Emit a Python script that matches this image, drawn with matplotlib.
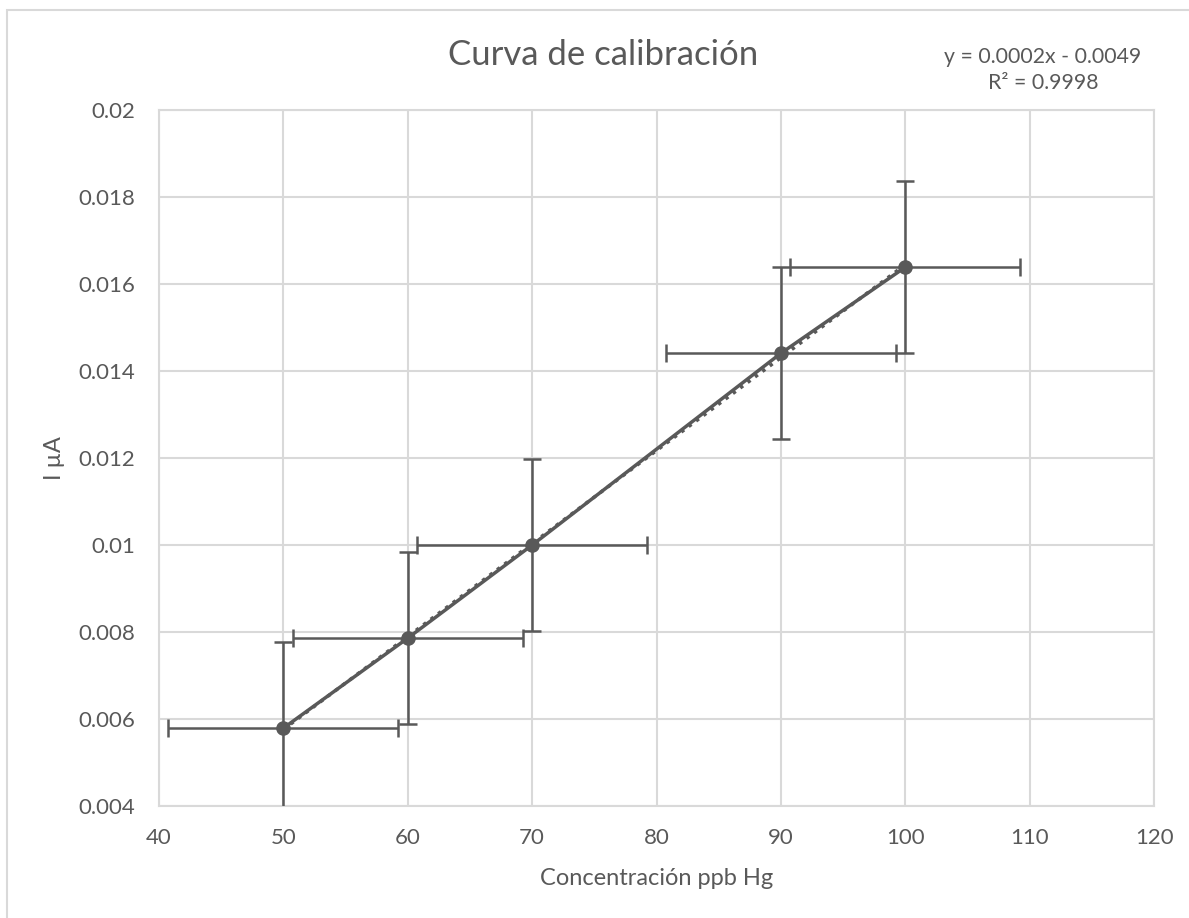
import numpy as np
import matplotlib.pyplot as plt
from matplotlib.patches import Rectangle

plt.rcParams['font.family'] = ['Lato', 'DejaVu Sans']

# datos de calibración
conc = np.array([50, 60, 70, 90, 100])                      # ppb Hg
corriente = np.array([0.00579, 0.00786, 0.0100, 0.01441, 0.01639])  # µA
err_x = np.array([9.25, 9.25, 9.25, 9.25, 9.25])
err_y = np.array([0.00198, 0.00198, 0.00198, 0.00198, 0.00198])

gris = '#595959'
gris_claro = '#d9d9d9'

fig = plt.figure(figsize=(11.89, 9.18), dpi=100)
ax = fig.add_axes([0.1337, 0.122, 0.8369, 0.758])

# marco del gráfico
fig.patches.append(Rectangle((0.006, -0.1), 1.1, 1.089, transform=fig.transFigure,
                             fill=False, edgecolor=gris_claro, linewidth=1.5))

ax.errorbar(conc, corriente, xerr=err_x, yerr=err_y, fmt='none',
            ecolor=gris, elinewidth=1.8, capsize=6.5, capthick=1.8, zorder=3)

# línea de tendencia
m, b = np.polyfit(conc, corriente, 1)
xt = np.linspace(conc.min(), conc.max(), 50)
ax.plot(xt, m * xt + b, color=gris, linestyle=':', linewidth=2.5, zorder=3)

ax.plot(conc, corriente, color=gris, linewidth=2.5, marker='o',
        markersize=9.5, zorder=4)

ax.set_xlim(40, 120)
ax.set_ylim(0.004, 0.02)
ax.set_xticks(np.arange(40, 121, 10))
ax.set_yticks(np.arange(0.004, 0.0201, 0.002))
ax.set_yticklabels(['0.004', '0.006', '0.008', '0.01', '0.012', '0.014',
                    '0.016', '0.018', '0.02'])
ax.grid(True, color=gris_claro, linewidth=1.5)
ax.set_axisbelow(True)
for s in ax.spines.values():
    s.set_color(gris_claro)
    s.set_linewidth(1.5)
ax.tick_params(length=0, labelsize=16, colors=gris)
ax.tick_params(axis='y', pad=17)
ax.tick_params(axis='x', pad=16)

ax.set_xlabel('Concentración ppb Hg', fontsize=17, color=gris, labelpad=14)
ax.set_ylabel('I µA', fontsize=17, color=gris, labelpad=10)

fig.text(0.507, 0.94, 'Curva de calibración', fontsize=25, color=gris,
         ha='center', va='center')
fig.text(0.877, 0.924, 'y = 0.0002x - 0.0049\nR² = 0.9998', fontsize=15.3,
         color=gris, ha='center', va='center', linespacing=1.4)

fig.savefig('out.png', dpi=100)
